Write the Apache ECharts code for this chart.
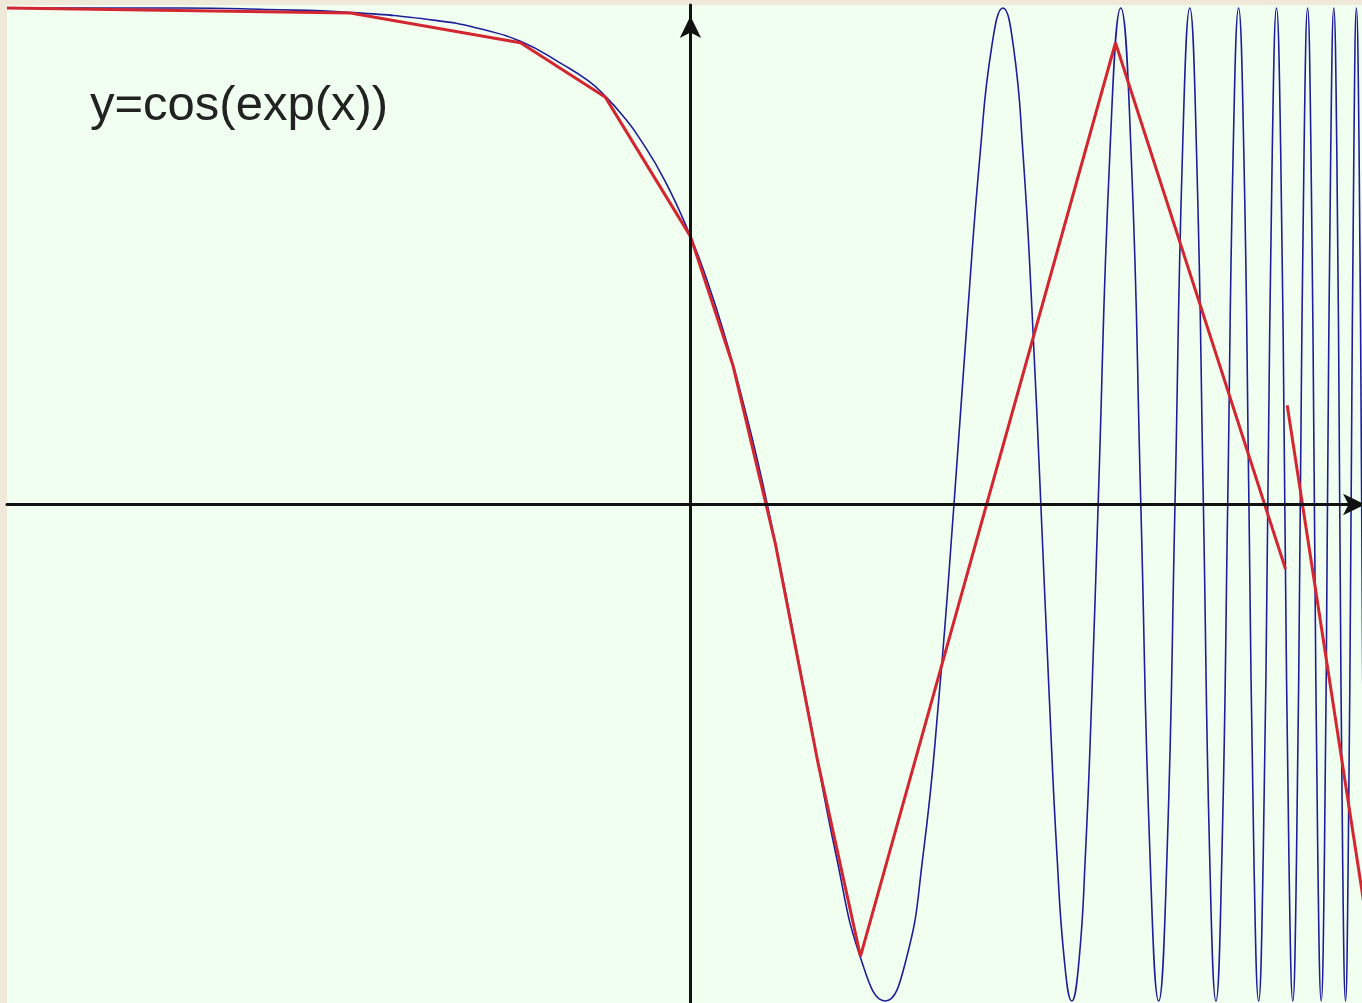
<!DOCTYPE html>
<html>
<head>
<meta charset="utf-8">
<title>y=cos(exp(x))</title>
<script src="https://cdn.jsdelivr.net/npm/echarts@6/dist/echarts.min.js"></script>
<style>
	html, body { margin: 0; padding: 0; background: #eee9d8; }
	#main { width: 1362px; height: 1003px; }
</style>
</head>
<body>
<div id="main"></div>
<script>
// blue curve, points (x, y)
var blueX = [-4.02, -3, -2.5, -2, -1.5, -1.25, -1, -0.75, -0.6, -0.5, -0.4, -0.3, -0.15, 0, 0.1, 0.2, 0.3, 0.452,
	0.675, 0.857, 1.011, 1.145, 1.263, 1.368, 1.463, 1.550,
	1.630, 1.704, 1.773, 1.838, 1.899, 1.956, 2.010, 2.061,
	2.110, 2.156, 2.201, 2.243, 2.284, 2.323, 2.361, 2.398,
	2.467, 2.531, 2.592, 2.649,
	2.703, 2.754, 2.803, 2.850, 2.894, 2.937, 2.977, 3.017,
	3.054, 3.091, 3.126, 3.160, 3.192, 3.224, 3.255, 3.285,
	3.314, 3.342, 3.369, 3.396, 3.422, 3.447, 3.472, 3.496,
	3.520, 3.543, 3.565, 3.587, 3.609, 3.630, 3.650, 3.670,
	3.690, 3.710, 3.729, 3.747, 3.766, 3.784, 3.802, 3.819,
	3.836, 3.853, 3.869, 3.886, 3.902, 3.917, 3.933, 3.948,
	3.963, 3.978];
var blueY = [1, 1, 0.997, 0.991, 0.975, 0.959, 0.933, 0.886, 0.853, 0.822, 0.784, 0.738, 0.652, 0.54, 0.449, 0.342, 0.219, 0,
	-0.383, -0.707, -0.924, -1, -0.924, -0.707, -0.383, 0,
	0.383, 0.707, 0.924, 1, 0.924, 0.707, 0.383, 0,
	-0.383, -0.707, -0.924, -1, -0.924, -0.707, -0.383, 0,
	0.707, 1, 0.707, 0,
	-0.707, -1, -0.707, 0, 0.707, 1, 0.707, 0,
	-0.707, -1, -0.707, 0, 0.707, 1, 0.707, 0,
	-0.707, -1, -0.707, 0, 0.707, 1, 0.707, 0,
	-0.707, -1, -0.707, 0, 0.707, 1, 0.707, 0,
	-0.707, -1, -0.707, 0, 0.707, 1, 0.707, 0,
	-0.707, -1, -0.707, 0, 0.707, 1, 0.707, 0,
	-0.707, -1];

// red polyline (coarse sampling)
var redX = [-4.02, -2, -1, -0.5, 0, 0.25, 0.5, 0.75, 1, 2.5, 3.5];
var redY = [1, 0.99, 0.93, 0.82, 0.54, 0.28, -0.08, -0.52, -0.91, 0.93, -0.13];
var red2X = [3.51, 4.0];
var red2Y = [0.20, -0.89];

var labelText = 'y=cos(exp(x))';

function zip(xs, ys) {
	var out = [];
	for (var i = 0; i < xs.length; i++) {
		out.push([xs[i], ys[i]]);
	}
	return out;
}

var chart = echarts.init(document.getElementById('main'));

var axisLineStyle = { color: '#111', width: 3 };

var option = {
	animation: false,
	backgroundColor: '#eee9d8',
	grid: {
		left: 7, right: 0, top: 5, bottom: 0,
		show: true,
		backgroundColor: '#f1fff1',
		borderWidth: 0
	},
	xAxis: {
		type: 'value',
		min: -4.02,
		max: 3.95,
		z: 5,
		axisLine: {
			onZero: true,
			lineStyle: axisLineStyle,
			symbol: ['none', 'arrow'],
			symbolSize: [16, 22],
			symbolOffset: [0, 3]
		},
		axisTick: { show: false },
		axisLabel: { show: false },
		splitLine: { show: false }
	},
	yAxis: {
		type: 'value',
		min: -1.004,
		max: 1.006,
		z: 5,
		axisLine: {
			onZero: true,
			lineStyle: axisLineStyle,
			symbol: ['none', 'arrow'],
			symbolSize: [16, 22],
			symbolOffset: [0, -11]
		},
		axisTick: { show: false },
		axisLabel: { show: false },
		splitLine: { show: false }
	},
	graphic: [{
		type: 'text',
		left: 90,
		top: 82,
		style: {
			text: labelText,
			font: '49px "Liberation Sans", Arial, sans-serif',
			fill: '#222'
		}
	}],
	series: [
		{
			type: 'line',
			data: zip(blueX, blueY),
			smooth: 0.5,
			showSymbol: false,
			clip: true,
			lineStyle: { color: '#1e1e9a', width: 1.6 }
		},
		{
			type: 'line',
			data: zip(redX, redY),
			showSymbol: false,
			clip: true,
			lineStyle: { color: '#d42630', width: 3 }
		},
		{
			type: 'line',
			data: zip(red2X, red2Y),
			showSymbol: false,
			clip: true,
			lineStyle: { color: '#d42630', width: 3 }
		}
	]
};

chart.setOption(option);
</script>
</body>
</html>
